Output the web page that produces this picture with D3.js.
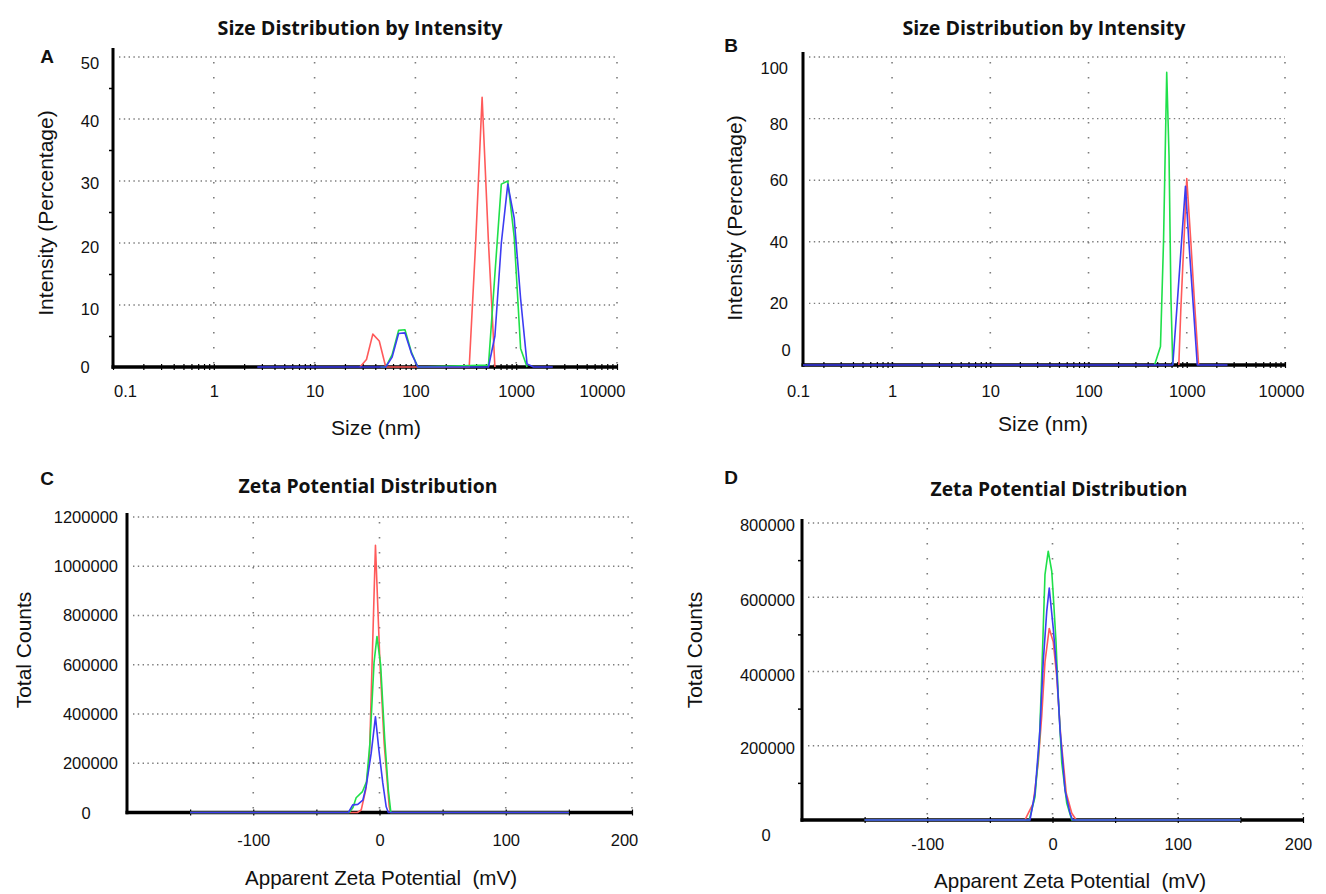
<!DOCTYPE html>
<html><head><meta charset="utf-8">
<script src="https://cdn.jsdelivr.net/npm/d3@7"></script>
<style>body{margin:0;background:#fff}svg{display:block}</style>
</head><body>
<svg id="chart" width="1326" height="894"></svg>
<script>
// ---------- Panel A : size distribution (sample 1) ----------
const aRedSize   = [28.2, 32.7, 37.8, 43.8, 50.8, 342, 396, 459, 531, 615];
const aRedInt    = [0, 1.2, 5.3, 4.2, 0, 0, 20, 43.5, 20, 0];
const aGreenSize = [45, 50.8, 58.8, 68.1, 78.8, 91.3, 105.7, 531, 615, 712, 825, 955, 1106, 1281];
const aGreenInt  = [0, 0, 2.0, 5.9, 6.0, 2.4, 0, 0.3, 15, 29.5, 30, 21, 3, 0];
const aBlueSize  = [2.7, 50.8, 58.8, 68.1, 78.8, 91.3, 105.7, 531, 615, 712, 825, 955, 1106, 1281, 1484, 2305];
const aBlueInt   = [0, 0, 1.6, 5.4, 5.5, 2.2, 0, 0, 5, 20, 29.5, 24, 11, 0.5, 0, 0];

// ---------- Panel B : size distribution (sample 2) ----------
const bGreenSize = [470, 540, 580, 625, 660, 690, 720];
const bGreenInt  = [0, 6, 40, 95, 68, 22, 0];
const bRedSize   = [830, 870, 1000, 1100, 1200, 1320];
const bRedInt    = [0, 18, 60.5, 40, 20, 0];
const bBlueSize  = [0.124, 720, 800, 885, 970, 1050, 1160, 1280, 2600];
const bBlueInt   = [0, 0, 20, 40, 58, 40, 20, 0, 0];

// ---------- Panel C : zeta potential (sample 1) ----------
const cRedMv    = [-150, -17.5, -14.5, -11, -8, -3.2, 0.3, 3.7, 7.7, 8.7, 150];
const cRedCnt   = [0, 0, 10000, 90000, 220000, 1085000, 615000, 280000, 25000, 0, 0];
const cGreenMv  = [-150, -24, -21, -18.5, -13.5, -10.3, -7.6, -4.3, -2, 0.9, 4.1, 7, 9, 150];
const cGreenCnt = [0, 0, 20000, 60000, 85000, 125000, 280000, 610000, 715000, 600000, 300000, 90000, 0, 0];
const cBlueMv   = [-150, -24.6, -21.2, -17.2, -13.2, -10.6, -6.6, -3.2, -0.5, 2.6, 5.3, 7, 150];
const cBlueCnt  = [0, 0, 31000, 33000, 50000, 105000, 240000, 389000, 254000, 120000, 23000, 0, 0];

// ---------- Panel D : zeta potential (sample 2) ----------
const dRedMv    = [-150, -22, -20.6, -15.4, -11.4, -8.6, -6, -2.6, 0.6, 3.3, 6.6, 11, 15.4, 19, 150];
const dRedCnt   = [0, 0, 10000, 45000, 154000, 280000, 426000, 516000, 480000, 389000, 225000, 72000, 18000, 0, 0];
const dGreenMv  = [-150, -18.5, -18, -14, -10.5, -8.6, -7.4, -6, -3.4, -0.6, 0.6, 2.8, 4.6, 7.4, 11.4, 15.4, 150];
const dGreenCnt = [0, 0, 8000, 62000, 207000, 389000, 516000, 661000, 724000, 670000, 606000, 480000, 334000, 154000, 45000, 0, 0];
const dBlueMv   = [-150, -18, -14, -10, -7.4, -4.6, -2.6, 0.6, 3.3, 6, 10, 14, 16, 150];
const dBlueCnt  = [0, 0, 72000, 244000, 426000, 562000, 625000, 516000, 407000, 244000, 80000, 18000, 0, 0];

// ---------- tick values / labels ----------
const sizeTicks      = [0.1, 1, 10, 100, 1000, 10000];
const sizeTickLabels = ["0.1", "1", "10", "100", "1000", "10000"];
const aYTicks        = [0, 10, 20, 30, 40, 50];
const aYTickLabels   = ["0", "10", "20", "30", "40", "50"];
const bYTicks        = [0, 20, 40, 60, 80, 100];
const bYTickLabels   = ["0", "20", "40", "60", "80", "100"];
const zetaTicks      = [-100, 0, 100, 200];
const zetaTickLabels = ["-100", "0", "100", "200"];
const cYTicks        = [0, 200000, 400000, 600000, 800000, 1000000, 1200000];
const cYTickLabels   = ["0", "200000", "400000", "600000", "800000", "1000000", "1200000"];
const dYTicks        = [0, 200000, 400000, 600000, 800000];
const dYTickLabels   = ["0", "200000", "400000", "600000", "800000"];

const FONT  = '"Liberation Sans", Arial, Helvetica, sans-serif';
const TFONT = '"Open Sans", "Liberation Sans", Arial, sans-serif';
const RED = '#ff5a5a', GREEN = '#1fe04a', BLUE = '#3c3cf2';
const GRID = '#7c7c7c';

const svg = d3.select('#chart');
svg.append('rect').attr('width', 1326).attr('height', 894).attr('fill', '#fff');

const panels = [
  { log: true, xDomain: [0.1, 10000], xRange: [113, 617], yDomain: [0, 50], yRange: [367, 57],
    xTicks: sizeTicks, xLabels: sizeTickLabels, yTicks: aYTicks, yLabels: aYTickLabels,
    xGrid: [1, 10, 100, 1000, 10000], yMinor: [5, 15, 25, 35, 45],
    series: [[aRedSize, aRedInt, RED], [aGreenSize, aGreenInt, GREEN], [aBlueSize, aBlueInt, BLUE]],
    title: 'Size Distribution by Intensity', titleX: 360, titleY: 35, titleW: 285,
    letter: 'A', letterX: 47, letterY: 63,
    xTitle: 'Size (nm)', xTitleX: 376, xTitleY: 435, xTitleW: null,
    yTitle: 'Intensity (Percentage)', yTitleX: 52.5, yTitleY: 213,
    yAxisTop: 48, xPad: 18, labelMin: 125, labelMax: 602,
    yLabelMiddle: 90, yShift: { 50: 6, 40: 2, 30: 2, 20: 4, 10: 4 }, zero: { x: 85, y: 367 } },
  { log: true, xDomain: [0.124, 10000], xRange: [803, 1285], yDomain: [0, 100], yRange: [365, 57],
    xTicks: sizeTicks, xLabels: sizeTickLabels, yTicks: bYTicks, yLabels: bYTickLabels,
    xGrid: [1, 10, 100, 1000, 10000], yMinor: null,
    series: [[bGreenSize, bGreenInt, GREEN], [bRedSize, bRedInt, RED], [bBlueSize, bBlueInt, BLUE]],
    title: 'Size Distribution by Intensity', titleX: 1044, titleY: 35, titleW: 283,
    letter: 'B', letterX: 731, letterY: 52,
    xTitle: 'Size (nm)', xTitleX: 1043, xTitleY: 431, xTitleW: null,
    yTitle: 'Intensity (Percentage)', yTitleX: 741.5, yTitleY: 218,
    yAxisTop: 52, xPad: 20.5, labelMin: 798, labelMax: 1281,
    yLabelEnd: 788, yShift: { 100: 11, 80: 6 }, zero: { x: 786, y: 350 } },
  { log: false, xDomain: [-200, 200], xRange: [127, 632], yDomain: [0, 1200000], yRange: [812.5, 517],
    xTicks: zetaTicks, xLabels: zetaTickLabels, yTicks: cYTicks, yLabels: cYTickLabels,
    xGrid: [-100, 0, 100, 200], yMinor: null,
    series: [[cRedMv, cRedCnt, RED], [cGreenMv, cGreenCnt, GREEN], [cBlueMv, cBlueCnt, BLUE]],
    title: 'Zeta Potential Distribution', titleX: 368, titleY: 493, titleW: 259,
    letter: 'C', letterX: 47, letterY: 485,
    xTitle: 'Apparent Zeta Potential  (mV)', xTitleX: 381, xTitleY: 885, xTitleW: 272,
    yTitle: 'Total Counts', yTitleX: 31, yTitleY: 650,
    yAxisTop: 513, xPad: 21.5, labelMin: 0, labelMax: 624,
    yLabelEnd: 118, yShift: {}, zero: { x: 86, y: 813 } },
  { log: false, xDomain: [-200, 200], xRange: [802, 1303], yDomain: [0, 800000], yRange: [820, 523],
    xTicks: zetaTicks, xLabels: zetaTickLabels, yTicks: dYTicks, yLabels: dYTickLabels,
    xGrid: [-100, 0, 100, 200], yMinor: [100000, 300000, 500000, 700000],
    series: [[dRedMv, dRedCnt, RED], [dGreenMv, dGreenCnt, GREEN], [dBlueMv, dBlueCnt, BLUE]],
    title: 'Zeta Potential Distribution', titleX: 1059, titleY: 496, titleW: 257,
    letter: 'D', letterX: 731, letterY: 484,
    xTitle: 'Apparent Zeta Potential  (mV)', xTitleX: 1070, xTitleY: 888, xTitleW: 272,
    yTitle: 'Total Counts', yTitleX: 701.5, yTitleY: 650,
    yAxisTop: 519, xPad: 18, labelMin: 0, labelMax: 1298,
    yLabelEnd: 795, yShift: { 800000: 2, 600000: 3, 400000: 4, 200000: 2 }, zero: { x: 766, y: 835 } }
];

function drawPanel(p) {
  const g = svg.append('g');
  const x = (p.log ? d3.scaleLog() : d3.scaleLinear()).domain(p.xDomain).range(p.xRange);
  const y = d3.scaleLinear().domain(p.yDomain).range(p.yRange);
  const L = p.xRange[0], R = p.xRange[1], y0 = y(0), yT = y(p.yDomain[1]);

  // dotted grid
  g.append('g').selectAll('line').data(p.yTicks.filter(v => v > 0)).join('line')
    .attr('x1', L + 6).attr('x2', R).attr('y1', d => y(d)).attr('y2', d => y(d))
    .attr('stroke', GRID).attr('stroke-width', 1.4).attr('stroke-dasharray', '1.4,3.4');
  g.append('g').selectAll('line').data(p.xGrid).join('line')
    .attr('x1', d => x(d)).attr('x2', d => x(d)).attr('y1', yT + 5).attr('y2', y0)
    .attr('stroke', GRID).attr('stroke-width', 1.6).attr('stroke-dasharray', '1.6,13.4');

  // axis lines
  g.append('line').attr('x1', L).attr('x2', L).attr('y1', p.yAxisTop).attr('y2', y0 + 1.7)
    .attr('stroke', '#000').attr('stroke-width', 3);
  g.append('line').attr('x1', L - 1.5).attr('x2', R).attr('y1', y0).attr('y2', y0)
    .attr('stroke', '#000').attr('stroke-width', 3.5);

  // minor x ticks
  const minor = p.log ? x.ticks() : d3.range(-150, 201, 50);
  const gm = g.append('g').attr('transform', `translate(0,${y0 - 3})`)
    .call(d3.axisBottom(x).tickValues(minor).tickSize(6).tickSizeOuter(0).tickFormat(''));
  gm.select('.domain').remove();
  gm.selectAll('line').attr('stroke', '#000').attr('stroke-width', 1.2);

  // minor y ticks
  if (p.yMinor) {
    const gy = g.append('g').attr('transform', `translate(${L - 1},0)`)
      .call(d3.axisLeft(y).tickValues(p.yMinor).tickSize(3).tickSizeOuter(0).tickFormat(''));
    gy.select('.domain').remove();
    gy.selectAll('line').attr('stroke', '#000').attr('stroke-width', 1.5);
  }

  // series
  const line = d3.line().x(d => x(d[0])).y(d => y(d[1]));
  p.series.forEach(s => {
    g.append('path').datum(d3.zip(s[0], s[1])).attr('d', line)
      .attr('fill', 'none').attr('stroke', s[2]).attr('stroke-width', 1.6)
      .attr('stroke-linejoin', 'round');
  });

  // x tick labels
  const gx = g.append('g').attr('transform', `translate(0,${y0})`)
    .call(d3.axisBottom(x).tickValues(p.xTicks).tickSize(0).tickPadding(p.xPad)
      .tickFormat((d, i) => p.xLabels[i]));
  gx.select('.domain').remove();
  gx.selectAll('text').attr('font-family', FONT).attr('font-size', 16.5).attr('fill', '#111')
    .attr('x', d => { const px = x(d); return Math.min(Math.max(px, p.labelMin), p.labelMax) - px; });

  // y tick labels
  const gyl = g.append('g').attr('transform', `translate(${L},0)`)
    .call(d3.axisLeft(y).tickValues(p.yTicks).tickSize(0).tickPadding(10)
      .tickFormat((d, i) => p.yLabels[i]));
  gyl.select('.domain').remove();
  const yt = gyl.selectAll('text').attr('font-family', FONT).attr('font-size', 16.5).attr('fill', '#111')
    .attr('y', d => p.yShift[d] || 0);
  if (p.yLabelMiddle !== undefined) {
    yt.attr('text-anchor', 'middle').attr('x', p.yLabelMiddle - L);
  } else {
    yt.attr('x', p.yLabelEnd - L);
  }
  if (p.zero) {
    yt.filter(d => d === 0).attr('text-anchor', 'middle')
      .attr('x', p.zero.x - L).attr('y', p.zero.y - y0);
  }

  // titles
  g.append('text').attr('x', p.titleX).attr('y', p.titleY).attr('text-anchor', 'middle')
    .attr('font-family', TFONT).attr('font-weight', 700).attr('font-size', 20)
    .attr('textLength', p.titleW).attr('lengthAdjust', 'spacingAndGlyphs')
    .attr('fill', '#111').text(p.title);
  g.append('text').attr('x', p.letterX).attr('y', p.letterY).attr('text-anchor', 'middle')
    .attr('font-family', FONT).attr('font-weight', 700).attr('font-size', 19)
    .attr('fill', '#111').text(p.letter);
  const xt = g.append('text').attr('x', p.xTitleX).attr('y', p.xTitleY).attr('text-anchor', 'middle')
    .attr('font-family', FONT).attr('font-size', 21).attr('fill', '#111')
    .style('white-space', 'pre').text(p.xTitle);
  if (p.xTitleW) xt.attr('textLength', p.xTitleW).attr('lengthAdjust', 'spacingAndGlyphs');
  g.append('text').attr('transform', `translate(${p.yTitleX},${p.yTitleY}) rotate(-90)`)
    .attr('text-anchor', 'middle').attr('font-family', FONT).attr('font-size', 21)
    .attr('fill', '#111').text(p.yTitle);
}

panels.forEach(drawPanel);
</script>
</body></html>
